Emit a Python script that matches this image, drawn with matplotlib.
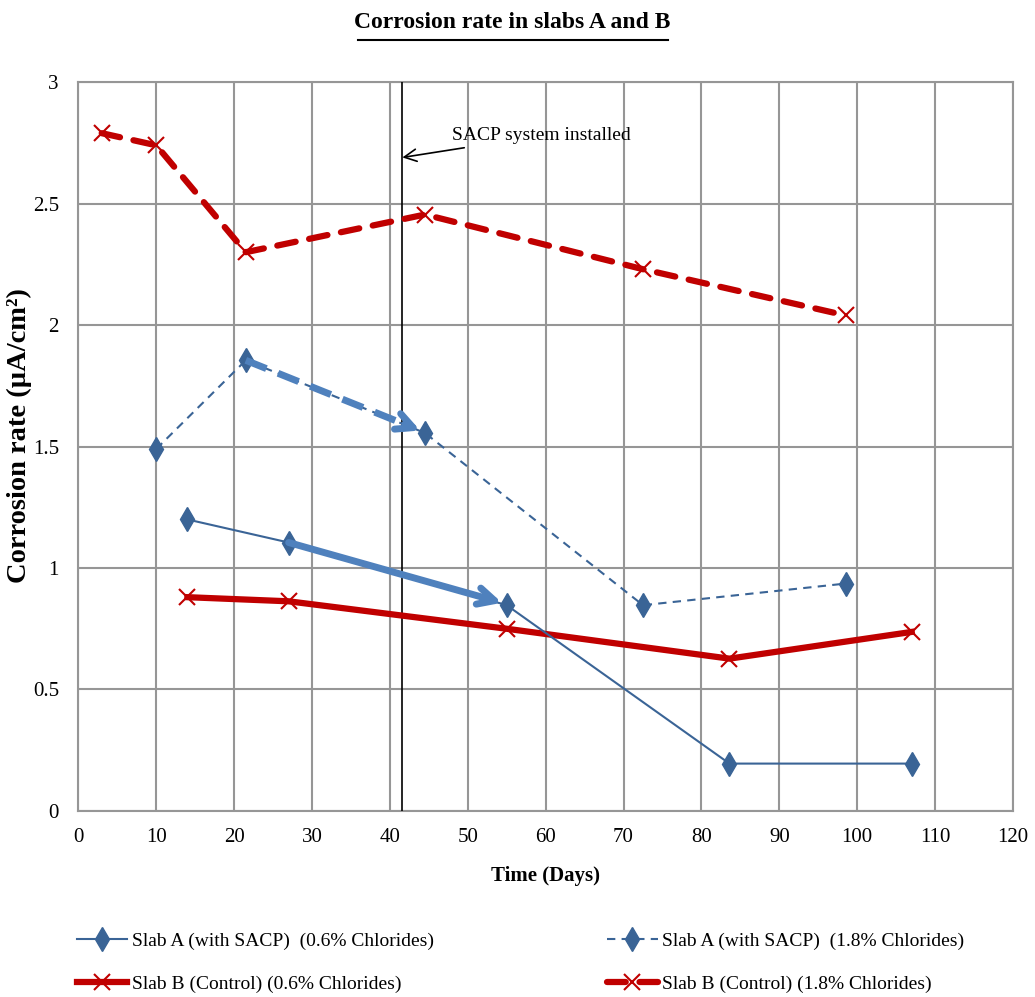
from matplotlib import pyplot as plt
from matplotlib.lines import Line2D

# days / corrosion rate (uA/cm2)
days_06 = [14, 27, 55, 83.6, 107]
days_18 = [3, 10, 21.5, 44.5, 72.5, 98.5]

slabA_06 = [1.20, 1.105, 0.847, 0.195, 0.195]
slabA_18_days = [10, 21.5, 44.5, 72.5, 98.5]
slabA_18 = [1.49, 1.855, 1.556, 0.847, 0.936]
slabB_06 = [0.88, 0.863, 0.75, 0.627, 0.737]
slabB_18 = [2.79, 2.74, 2.30, 2.455, 2.23, 2.04]

sacp_day = 41.6
xticks = list(range(0, 121, 10))
yticks = [0, 0.5, 1, 1.5, 2, 2.5, 3]

blue = '#3A6496'
arrowblue = '#4F81BD'
red = '#C00000'
grey = '#969696'

plt.rcParams['font.family'] = ['Liberation Serif', 'DejaVu Serif']

fig = plt.figure(figsize=(10.35, 9.97), dpi=100)
ax = fig.add_axes([0.0757, 0.1866, 0.903, 0.731])

ax.set_xlim(0, 120)
ax.set_ylim(0, 3)
ax.set_xticks(xticks)
ax.set_yticks(yticks)
ax.set_yticklabels(['0', '0.5', '1', '1.5', '2', '2.5', '3'])
ax.grid(True, color=grey, lw=1.5)
ax.set_axisbelow(True)
for s in ax.spines.values():
    s.set_color(grey)
    s.set_linewidth(1.5)
ax.tick_params(axis='both', length=0, labelsize=15)
ax.tick_params(axis='x', pad=12)
ax.tick_params(axis='y', pad=14)

# series
l1, = ax.plot(days_06, slabA_06, color=blue, lw=1.5, marker='d', ms=12, zorder=5,
              label='Slab A (with SACP)  (0.6% Chlorides)')
l2, = ax.plot(slabA_18_days, slabA_18, color=blue, lw=1.5, ls=(0, (4, 3)), marker='d', ms=12, zorder=5,
              label='Slab A (with SACP)  (1.8% Chlorides)')
l3, = ax.plot(days_06, slabB_06, color=red, lw=4.5, marker='x', ms=11, mew=1.5, zorder=4,
              label='Slab B (Control) (0.6% Chlorides)')
l4, = ax.plot(days_18, slabB_18, color=red, lw=4.5, ls=(0, (3.0, 2.2)), dash_capstyle='round',
              marker='x', ms=11, mew=1.5, zorder=4,
              label='Slab B (Control) (1.8% Chlorides)')

# SACP installation marker
ax.axvline(sacp_day, color='black', lw=1.2, zorder=3)
ax.annotate('SACP system installed', xy=(sacp_day, 2.69), xytext=(48.0, 2.78),
            fontsize=14, va='center', ha='left',
            arrowprops=dict(arrowstyle='->', color='black', lw=1.2, mutation_scale=22,
                            shrinkA=4, shrinkB=0))

# trend arrows
ax.annotate('', xy=(days_06[2] - 0.6, slabA_06[2] + 0.01), xytext=(days_06[1], slabA_06[1]),
            arrowprops=dict(arrowstyle='->', color=arrowblue, lw=5, mutation_scale=30,
                            shrinkA=0, shrinkB=0), zorder=6)
x0, y0 = slabA_18_days[1], slabA_18[1]
x1, y1 = slabA_18_days[2] - 0.6, slabA_18[2] + 0.01
ax.plot([x0, x1 - 1.0], [y0, y1 + (y0 - y1) * 1.0 / (x1 - x0)], color=arrowblue, lw=5,
        ls=(0, (3.2, 1.8)), zorder=6)
ax.annotate('', xy=(x1, y1), xytext=(x1 - 2.0, y1 + (y0 - y1) * 2.0 / (x1 - x0)),
            arrowprops=dict(arrowstyle='->', color=arrowblue, lw=5, mutation_scale=30,
                            shrinkA=0, shrinkB=0), zorder=6)

ax.set_xlabel('Time (Days)', fontsize=15, fontweight='bold', labelpad=14)
ax.set_ylabel('Corrosion rate (µA/cm²)', fontsize=20.5, fontweight='bold')
ax.yaxis.set_label_coords(-0.050, 0.515)

fig.text(0.4945, 0.977, 'Corrosion rate in slabs A and B', fontsize=17, fontweight='bold',
         ha='center', va='center')
fig.add_artist(Line2D([0.346, 0.645], [0.960, 0.960], color='black', lw=1.5))

fig.legend(handles=[l1, l3, l2, l4], loc='upper left', bbox_to_anchor=(0.074, 0.065),
           ncol=2, frameon=False, fontsize=14, handlelength=2.6, handletextpad=0.25,
           columnspacing=8.9, labelspacing=1.3, borderpad=0, borderaxespad=0)

fig.savefig('out.png', dpi=100)
